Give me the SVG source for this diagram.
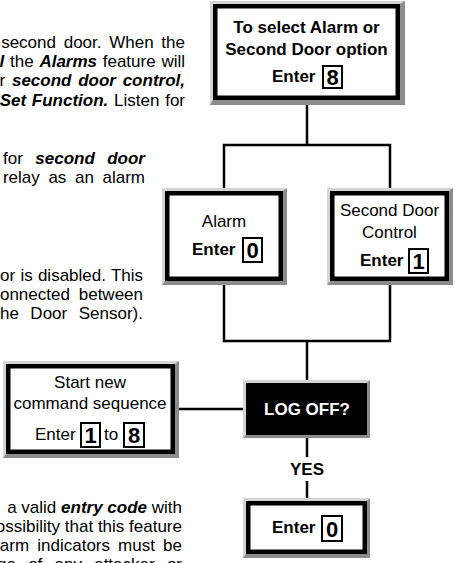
<svg xmlns="http://www.w3.org/2000/svg" width="455" height="563" viewBox="0 0 455 563">
<style>
.t{font-family:"Liberation Sans",Arial,Helvetica,sans-serif;font-size:17px;fill:#000}
.b{font-weight:bold}
.bi{font-weight:bold;font-style:italic}
.c{text-anchor:middle}
.e{text-anchor:end}
.lt{fill:#d4d4d4}
.dk{fill:#8c8c8c}
.fr{fill:#fff;stroke:#000;stroke-width:4.5}
.dg{fill:#fff;stroke:#000;stroke-width:2}
.dn{font-family:"Liberation Sans",Arial,Helvetica,sans-serif;font-size:22px;font-weight:bold;text-anchor:middle;fill:#000}
.conn{fill:none;stroke:#000;stroke-width:2.5;stroke-linecap:butt}
</style>

<g id="body-text">
<text class="t e" x="185" y="48" word-spacing="3">second door. When the</text>
<text class="t e" x="185" y="67" word-spacing="1"><tspan class="bi">l</tspan> the <tspan class="bi">Alarms</tspan> feature will</text>
<text class="t e" x="185" y="86" word-spacing="2">r <tspan class="bi">second door control,</tspan></text>
<text class="t e" x="185" y="106" word-spacing="1"><tspan class="bi">Set Function.</tspan> Listen for</text>

<text class="t e" x="145" y="164" word-spacing="7.7">for <tspan class="bi">second door</tspan></text>
<text class="t e" x="145" y="183" word-spacing="3.9">relay as an alarm</text>

<text class="t e" x="143" y="281" word-spacing="0.5">or is disabled. This</text>
<text class="t e" x="143" y="300" word-spacing="4.1">onnected between</text>
<text class="t e" x="143" y="319" word-spacing="6.8">he Door Sensor).</text>

<text class="t e" x="182" y="513" word-spacing="0"><tspan>a valid </tspan><tspan class="bi">entry code</tspan> with</text>
<text class="t e" x="182" y="532" word-spacing="0">ossibility that this feature</text>
<text class="t e" x="182" y="551" word-spacing="3.4">arm indicators must be</text>
<text class="t e" x="182" y="570" word-spacing="7.5">ge of any attacker or</text>
</g>

<g id="connectors">
<path class="conn" d="M307,104 V145 M222.75,145 H391.25 M224,145 V188 M390,145 V188 M224,285 V341 M390,285 V341 M222.75,341 H391.25 M307,341 V380 M179,409 H243 M307,438 V457 M307,481 V498"/>
</g>

<g id="n-select">
<rect class="lt" x="210" y="1" width="195" height="104"/>
<polygon class="dk" points="405,1 405,105 210,105 213,100 400,100 400,4"/>
<rect class="fr" x="215.25" y="6.25" width="182.5" height="91.5"/>
<text class="t b c" x="306.5" y="33">To select Alarm or</text>
<text class="t b c" x="306.5" y="55">Second Door option</text>
<text class="t b" x="272" y="82">Enter</text>
<rect class="dg" x="323" y="66" width="19" height="22"/>
<text class="dn" x="332.5" y="85">8</text>
</g>

<g id="n-alarm">
<rect class="lt" x="162" y="188" width="125" height="97"/>
<polygon class="dk" points="287,188 287,285 162,285 165,281 283,281 283,191"/>
<rect class="fr" x="167.25" y="193.25" width="113.5" height="85.5"/>
<text class="t c" x="224" y="227">Alarm</text>
<text class="t b" x="192" y="255">Enter</text>
<rect class="dg" x="243" y="238" width="19" height="24"/>
<text class="dn" x="252.5" y="258">0</text>
</g>

<g id="n-second-door">
<rect class="lt" x="327" y="188" width="126" height="97"/>
<polygon class="dk" points="453,188 453,285 327,285 330,281 449,281 449,191"/>
<rect class="fr" x="332.25" y="193.25" width="114.5" height="85.5"/>
<text class="t c" x="389.5" y="216">Second Door</text>
<text class="t c" x="389.5" y="238">Control</text>
<text class="t b" x="360" y="266">Enter</text>
<rect class="dg" x="409" y="249" width="19" height="24"/>
<text class="dn" x="418.5" y="269">1</text>
</g>

<g id="n-start-new">
<rect class="lt" x="3" y="361" width="176" height="97"/>
<polygon class="dk" points="179,361 179,458 3,458 6,454 175,454 175,364"/>
<rect class="fr" x="8.25" y="366.25" width="164.5" height="85.5"/>
<text class="t c" x="90" y="388">Start new</text>
<text class="t c" x="90" y="409">command sequence</text>
<text class="t" x="35" y="440">Enter</text>
<rect class="dg" x="81" y="423" width="19" height="24"/>
<text class="dn" x="90.5" y="443">1</text>
<text class="t" x="104" y="440">to</text>
<rect class="dg" x="124" y="423" width="20" height="24"/>
<text class="dn" x="134" y="443">8</text>
</g>

<g id="n-logoff">
<rect class="lt" x="243" y="380" width="127" height="58"/>
<polygon class="dk" points="370,380 370,438 243,438 246,435 367,435 367,383"/>
<rect x="246" y="383" width="121" height="52" fill="#000"/>
<text class="t b c" x="307" y="415" style="fill:#fff">LOG OFF?</text>
</g>

<g id="label-yes">
<text class="t b c" x="307" y="475">YES</text>
</g>

<g id="n-enter0">
<rect class="lt" x="243" y="498" width="127" height="60"/>
<polygon class="dk" points="370,498 370,558 243,558 246,554 367,554 367,501"/>
<rect class="fr" x="248.25" y="503.25" width="116.5" height="48.5"/>
<text class="t b" x="272" y="533">Enter</text>
<rect class="dg" x="322" y="516" width="20" height="25"/>
<text class="dn" x="332" y="536.5">0</text>
</g>
</svg>
